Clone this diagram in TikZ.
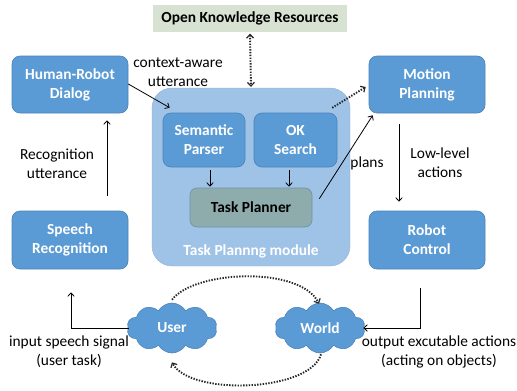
\documentclass[tikz,border=0pt]{standalone}
\usepackage{fontspec}
\setmainfont{Carlito}
\usetikzlibrary{arrows.meta,shapes.symbols}
\definecolor{boxblue}{HTML}{5B9BD5}
\definecolor{boxedge}{HTML}{4A82B8}
\definecolor{modblue}{HTML}{9FC2E7}
\definecolor{tpfill}{HTML}{8EACAB}
\definecolor{tpedge}{HTML}{6A93AC}
\definecolor{okrfill}{HTML}{D8E2D2}
\tikzset{
  bluebox/.style={draw=boxedge, line width=0.6pt, fill=boxblue, rounded corners=8pt, text=white,
    font=\fontsize{15.4}{19}\selectfont\bfseries, align=center, inner sep=0pt},
  lbl/.style={font=\fontsize{15.4}{19}\selectfont, align=center, inner sep=0pt, text=black},
  arr/.style={line width=0.8pt, -{Straight Barb[length=3.5pt,width=6.5pt]}},
  dotarr/.style={line width=1.9pt, dash pattern=on 1.4pt off 1.4pt, draw=black!85,
    -{Straight Barb[length=3.5pt,width=7pt,line width=1.2pt]}},
  cloudnode/.style={cloud, cloud puffs=10, cloud puff arc=120, aspect=1.8, draw=boxedge,
    line width=0.6pt, fill=boxblue, text=white, font=\fontsize{15.4}{19}\selectfont\bfseries,
    minimum width=90pt, minimum height=50pt, inner sep=0pt}
}
\begin{document}
\begin{tikzpicture}[x=1pt,y=-1pt]
\useasboundingbox (0,0) rectangle (517,391);
% nodes
\node[fill=okrfill, minimum width=194pt, minimum height=27pt, inner sep=0pt,
  font=\fontsize{15.4}{19}\selectfont\bfseries] (okr) at (250,18.5) {Open Knowledge Resources};
\node[fill=modblue, draw=modblue!92!black, line width=0.4pt, rounded corners=20pt,
  minimum width=198pt, minimum height=178pt, inner sep=0pt] (module) at (251,177) {};
\node[bluebox, minimum width=116pt, minimum height=57pt] (hrd) at (70,84.5) {Human-Robot\\Dialog};
\node[bluebox, minimum width=116pt, minimum height=57pt] (motion) at (427,84.5) {Motion\\Planning};
\node[bluebox, minimum width=116pt, minimum height=58pt] (speech) at (70,240) {Speech\\Recognition};
\node[bluebox, minimum width=116pt, minimum height=58pt] (robot) at (427,240) {Robot\\Control};
\node[bluebox, minimum width=82pt, minimum height=54pt] (sem) at (204,140) {Semantic\\Parser};
\node[bluebox, minimum width=83pt, minimum height=54pt] (ok) at (295.5,140) {OK\\Search};
\node[draw=tpedge, line width=0.6pt, fill=tpfill, rounded corners=7pt, minimum width=122pt,
  minimum height=39pt, inner sep=0pt, font=\fontsize{15.4}{19}\selectfont\bfseries] (tp) at (251,207.5) {Task Planner};
\node[lbl, text=white, font=\fontsize{15.4}{19}\selectfont\bfseries] (modlbl) at (251,251) {Task Plannng module};
\node[cloudnode] (user) at (172,328) {User};
\node[cloudnode] (world) at (320,328) {World};
% labels
\node[lbl] (l1) at (178,72.5) {context-aware\\utterance};
\node[lbl] (l2) at (57,164) {Recognition\\utterance};
\node[lbl] (l3) at (367,163) {plans};
\node[lbl] (l4) at (440,163) {Low-level\\actions};
\node[lbl] (l5) at (439,351.5) {output excutable actions\\(acting on objects)};
\node[lbl] (l6) at (69,351.5) {input speech signal\\(user task)};
% connectors
\draw[dotarr, {Straight Barb[length=3.5pt,width=7pt,line width=1.2pt]}-{Straight Barb[length=3.5pt,width=7pt,line width=1.2pt]}]
  ([yshift=-1.5pt]okr.south) -- ([yshift=1pt]module.north);
\draw[arr] ([yshift=0.5pt]hrd.east) -- ([xshift=7pt,yshift=5pt]sem.north west);
\draw[arr] ([xshift=37pt,yshift=15pt]speech.north) -- ([xshift=37pt,yshift=-7pt]hrd.south);
\draw[arr] ([xshift=6pt,yshift=-3pt]sem.south) -- ([xshift=-41pt,yshift=1pt]tp.north);
\draw[arr] ([xshift=-6.5pt,yshift=-3pt]ok.south) -- ([xshift=38pt,yshift=1pt]tp.north);
\draw[arr] ([xshift=7pt,yshift=-11pt]tp.north east) -- ([xshift=4pt,yshift=-2pt]motion.south west);
\draw[dotarr] ([xshift=-18pt,yshift=-20pt]module.north east) -- ([xshift=-3pt,yshift=-2.5pt]motion.west);
\draw[arr] ([xshift=-28pt,yshift=-11pt]motion.south) -- ([xshift=-28pt,yshift=9pt]robot.north);
\draw[arr] ([xshift=-7pt,yshift=-19pt]robot.south) |- ([xshift=-1pt]world.east);
\draw[arr] ([xshift=1pt]user.west) -| ([xshift=1pt,yshift=-23pt]speech.south);
\draw[dotarr] ([yshift=3pt]user.north) .. controls (195,270) and (300,266) .. ([xshift=-1pt,yshift=-1pt]world.north);
\draw[dotarr] ([xshift=1pt,yshift=-1pt]world.south) .. controls (310,392) and (190,396) .. ([yshift=-9pt]user.south);
\end{tikzpicture}
\end{document}
